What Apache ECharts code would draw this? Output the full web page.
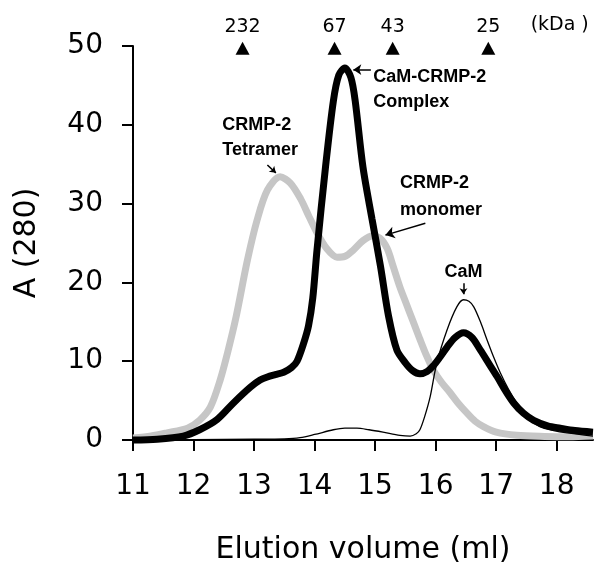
<!DOCTYPE html>
<html>
<head>
<meta charset="utf-8">
<script src="https://cdn.jsdelivr.net/npm/echarts@6/dist/echarts.min.js"></script>
<style>
html,body{margin:0;padding:0;background:#fff;}
#c{width:602px;height:574px;}
</style>
</head>
<body>
<div id="c"></div>
<script>
// CRMP-2 alone (grey)
const crmp2 = [
  [11.0,0.25],[11.3,0.5],[11.56,0.9],[11.9,1.5],[12.1,2.5],[12.28,4.2],[12.44,7.6],[12.56,11.0],
  [12.7,15.5],[12.89,22.8],[13.05,27.9],[13.22,31.7],[13.43,33.4],[13.6,32.6],[13.77,30.6],
  [13.9,28.5],[14.04,26.3],[14.2,24.3],[14.37,23.2],[14.5,23.3],[14.64,24.1],[14.8,25.3],
  [14.95,25.9],[15.08,25.6],[15.2,24.3],[15.3,22.0],[15.41,19.4],[15.52,17.2],[15.63,15.0],
  [15.74,12.8],[15.85,10.7],[15.96,8.9],[16.1,7.3],[16.24,6.0],[16.38,4.6],[16.52,3.4],
  [16.65,2.4],[16.79,1.7],[17.0,1.0],[17.34,0.6],[17.8,0.45],[18.2,0.4],[18.6,0.5]
];
// CaM + CRMP-2 (thick black)
const complexMix = [
  [11.0,0],[11.4,0.1],[11.83,0.5],[12.1,1.3],[12.39,2.6],[12.66,4.7],[12.94,6.7],[13.1,7.6],
  [13.22,8.0],[13.35,8.3],[13.49,8.6],[13.62,9.2],[13.71,10.0],[13.82,12.3],[13.9,14.5],
  [13.97,18.0],[14.04,24.1],[14.18,34.6],[14.31,43.0],[14.4,46.3],[14.5,47.2],[14.6,46.0],
  [14.67,43.1],[14.8,34.6],[14.95,28.0],[15.09,22.0],[15.22,15.8],[15.36,11.4],[15.5,9.8],
  [15.62,8.8],[15.74,8.4],[15.86,8.7],[15.96,9.4],[16.08,10.6],[16.19,11.8],[16.32,13.0],
  [16.46,13.6],[16.6,13.0],[16.74,11.4],[16.88,9.7],[17.02,8.0],[17.15,6.3],[17.29,4.7],
  [17.45,3.4],[17.62,2.5],[17.85,1.8],[18.06,1.5],[18.3,1.2],[18.6,1.0]
];
// CaM alone (thin black)
const cam = [
  [11.0,0],[12.0,0.05],[13.0,0.1],[13.5,0.15],[13.76,0.3],[14.0,0.7],[14.31,1.3],[14.5,1.5],
  [14.7,1.5],[14.9,1.3],[15.13,1.0],[15.41,0.6],[15.58,0.5],[15.68,0.8],[15.74,1.3],[15.82,3.0],
  [15.91,5.5],[16.02,9.8],[16.19,14.0],[16.35,16.9],[16.46,17.8],[16.55,17.6],[16.63,16.9],
  [16.74,15.0],[16.85,12.7],[16.96,10.5],[17.07,8.5],[17.2,6.5],[17.34,4.7],[17.52,2.8],
  [17.72,1.7],[17.95,1.2],[18.17,0.9],[18.6,0.5]
];
// Molecular weight markers
const markerX = [12.81, 14.33, 15.29, 16.87];
const markerLabels = ['232', '67', '43', '25'];
const markerY = 49.7;
// Annotations (data coordinates)
const annotTexts = [
  {text:'CRMP-2\nTetramer', x:12.475, y:38.4, align:'left', lh:25},
  {text:'CaM-CRMP-2\nComplex', x:14.97, y:44.5, align:'left', lh:25},
  {text:'CRMP-2\nmonomer', x:15.41, y:30.9, align:'left', lh:27},
  {text:'CaM', x:16.46, y:21.3, align:'center', lh:20}
];
const annotArrows = [
  [[13.22,34.9],[13.36,33.9],6],
  [[14.93,47.0],[14.64,47.0],8],
  [[15.83,27.5],[15.17,26.0],9],
  [[16.46,19.9],[16.46,18.5],6]
];

const chart = echarts.init(document.getElementById('c'), null, {renderer:'canvas'});
const bigFont = 'DejaVu Sans';
const option = {
  animation:false,
  backgroundColor:'#fff',
  grid:{left:133, right:9, top:46, bottom:134, containLabel:false},
  xAxis:{
    type:'value', min:11, max:18.6, interval:1,
    name:'Elution volume (ml)', nameLocation:'middle', nameGap:95,
    nameTextStyle:{fontFamily:bigFont, fontSize:30, color:'#000'},
    axisLine:{show:true, onZero:false, lineStyle:{color:'#000', width:2}},
    axisTick:{show:true, length:11, lineStyle:{color:'#000', width:2}},
    axisLabel:{fontFamily:bigFont, fontSize:28, color:'#000', margin:33, showMaxLabel:false},
    splitLine:{show:false}
  },
  yAxis:{
    type:'value', min:0, max:50, interval:10,
    name:'A (280)', nameLocation:'middle', nameGap:91,
    nameTextStyle:{fontFamily:bigFont, fontSize:30, color:'#000'},
    axisLine:{show:true, lineStyle:{color:'#000', width:2}},
    axisTick:{show:true, length:11, lineStyle:{color:'#000', width:2}},
    axisLabel:{fontFamily:bigFont, fontSize:28, color:'#000', margin:30},
    splitLine:{show:false}
  },
  series:[
    {type:'line', data:crmp2, smooth:0.3, symbol:'none', clip:false,
     lineStyle:{color:'#c6c6c6', width:7}, z:2},
    {type:'line', data:complexMix, smooth:0.3, symbol:'none', clip:false,
     lineStyle:{color:'#000', width:7}, z:3},
    {type:'line', data:cam, smooth:0.3, symbol:'none', clip:false,
     lineStyle:{color:'#000', width:1.3}, z:4,
     markLine:{silent:true, symbol:['none','arrow'], animation:false,
       label:{show:false}, lineStyle:{color:'#000', width:1.5, type:'solid'},
       data: annotArrows.map(a => [{coord:a[0], symbolSize:0}, {coord:a[1], symbolSize:a[2]}])
     }},
    {type:'scatter', data:markerX.map((x,i)=>({value:[x, markerY], name:markerLabels[i]})),
     symbol:'triangle', symbolSize:[14,13], clip:false,
     itemStyle:{color:'#000', opacity:1},
     label:{show:true, position:'top', distance:5, formatter:p=>p.name,
       fontFamily:bigFont, fontSize:19, color:'#000', opacity:1}, z:5}
  ]
};
chart.setOption(option);

const g = [];
annotTexts.forEach(a => {
  const p = chart.convertToPixel({gridIndex:0}, [a.x, a.y]);
  g.push({type:'text', x:p[0], y:p[1], z:10,
    style:{text:a.text, fill:'#000', font:'bold 18px "Liberation Sans", Arial, sans-serif',
      textAlign:a.align, textVerticalAlign:'middle', lineHeight:a.lh}});
});
const kp = chart.convertToPixel({gridIndex:0}, [18.05, 52.7]);
g.push({type:'text', x:kp[0], y:kp[1], z:10,
  style:{text:'(kDa )', fill:'#000', font:'19px "DejaVu Sans", sans-serif',
    textAlign:'center', textVerticalAlign:'middle'}});
chart.setOption({graphic:g});
</script>
</body>
</html>
